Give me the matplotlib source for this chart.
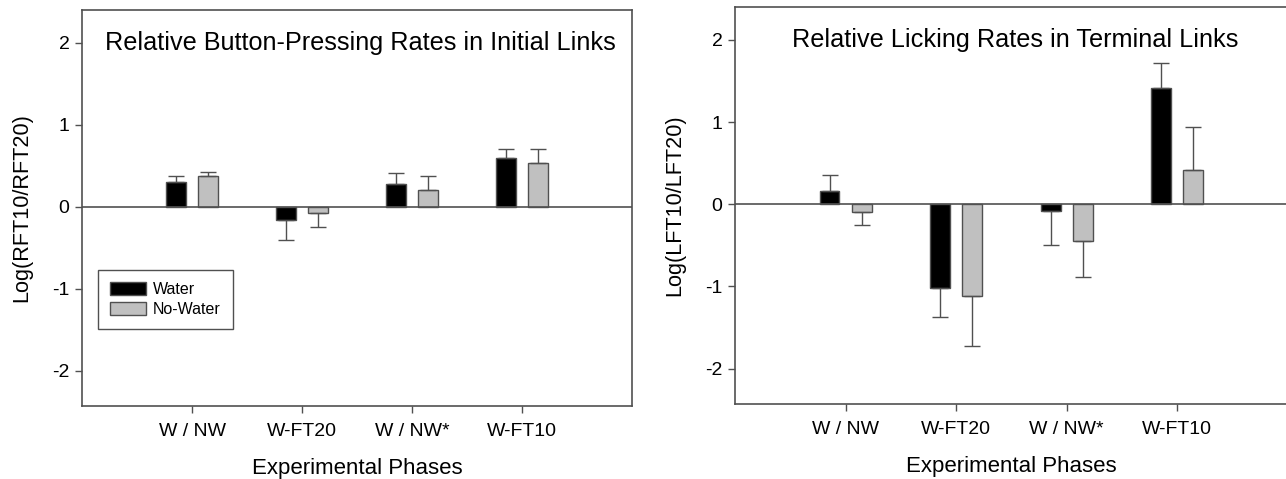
import numpy as np
import matplotlib.pyplot as plt

plt.rcParams['font.family'] = ['Liberation Sans', 'DejaVu Sans']

# experimental phases on the x axis
phases = ['W / NW', 'W-FT20', 'W / NW*', 'W-FT10']

# left panel: relative button-pressing rates (initial links)
press_water = [0.30, -0.16, 0.28, 0.59]
press_water_err = [0.08, 0.24, 0.13, 0.12]
press_nowater = [0.37, -0.07, 0.20, 0.54]
press_nowater_err = [0.06, 0.18, 0.18, 0.17]

# right panel: relative licking rates (terminal links)
lick_water = [0.16, -1.02, -0.08, 1.42]
lick_water_err = [0.20, 0.35, 0.42, 0.30]
lick_nowater = [-0.09, -1.12, -0.45, 0.42]
lick_nowater_err = [0.16, 0.61, 0.44, 0.52]

EDGE = '#505050'


def one_sided(vals, errs):
    """error bar only on the far side of the bar"""
    vals = np.asarray(vals)
    errs = np.asarray(errs)
    lower = np.where(vals < 0, errs, 0)
    upper = np.where(vals >= 0, errs, 0)
    return [lower, upper]


def draw_panel(ax, water, water_err, nowater, nowater_err, title, ylabel):
    x = np.arange(1, len(phases) + 1)
    off, w = 0.145, 0.18
    ekw = dict(ecolor=EDGE, elinewidth=1.0, capsize=6, capthick=1.0)
    ax.bar(x - off, water, w, color='black', edgecolor=EDGE, linewidth=1.0,
           yerr=one_sided(water, water_err), error_kw=ekw, label='Water', zorder=3)
    ax.bar(x + off, nowater, w, color='#c0c0c0', edgecolor=EDGE, linewidth=1.0,
           yerr=one_sided(nowater, nowater_err), error_kw=ekw, label='No-Water', zorder=3)
    ax.axhline(0, color=EDGE, linewidth=1.2, zorder=4)

    ax.set_xlim(0, 5)
    ax.set_ylim(-2.43, 2.4)
    ax.set_xticks(x)
    ax.set_xticklabels(phases)
    ax.set_yticks([-2, -1, 0, 1, 2])
    ax.set_yticklabels(['-2', '-1', '0', '1', '2'])
    ax.tick_params(axis='both', direction='out', length=5, width=1.0,
                   color=EDGE, labelsize=14, pad=4)
    ax.tick_params(axis='x', pad=7)
    for s in ax.spines.values():
        s.set_color(EDGE)
        s.set_linewidth(1.2)

    ax.text(2.53, 2.0, title, ha='center', va='center', fontsize=18.2)
    ax.set_xlabel('Experimental Phases', fontsize=16, labelpad=13.5)
    ax.set_ylabel(ylabel, fontsize=15.6, labelpad=14)


fig = plt.figure(figsize=(12.86, 4.79), dpi=100)
ax1 = fig.add_axes([0.0638, 0.1524, 0.4277, 0.8267])
ax2 = fig.add_axes([0.5715, 0.1566, 0.4300, 0.8288])

draw_panel(ax1, press_water, press_water_err, press_nowater, press_nowater_err,
           'Relative Button-Pressing Rates in Initial Links', 'Log(RFT10/RFT20)')
draw_panel(ax2, lick_water, lick_water_err, lick_nowater, lick_nowater_err,
           'Relative Licking Rates in Terminal Links', 'Log(LFT10/LFT20)')

leg = ax1.legend(loc='upper left', bbox_to_anchor=(0.029, 0.343), borderaxespad=0,
                 fontsize=11.5, fancybox=False, framealpha=1, edgecolor=EDGE,
                 handlelength=2.25, handleheight=0.9, borderpad=0.75,
                 labelspacing=0.3, handletextpad=0.45)
leg.get_frame().set_linewidth(1.0)

fig.savefig('out.png', dpi=100)
